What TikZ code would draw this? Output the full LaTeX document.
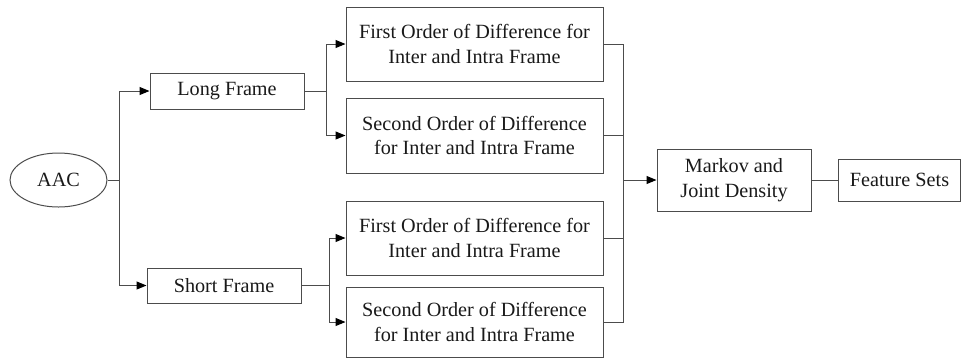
\documentclass[tikz,border=0pt]{standalone}
\usepackage{fontspec}
\setmainfont{Liberation Serif}
\usetikzlibrary{shapes.geometric,arrows.meta}
\begin{document}
\begin{tikzpicture}[x=1pt,y=-1pt,
  every node/.style={font=\fontsize{20.2}{24.5}\selectfont, text=black!90, inner sep=0pt},
  box/.style={draw=black!70, line width=1pt, rectangle, align=center},
  ln/.style={draw=black!70, line width=1pt},
  arr/.style={ln, -{Triangle[length=10pt,width=8pt,fill=black,color=black]}}]
\useasboundingbox (0,0) rectangle (961,360);
\node[draw=black!70, line width=1pt, ellipse, minimum width=97pt, minimum height=54pt] (aac) at (58.5,180) {AAC};
\node[box, minimum width=154pt, minimum height=36pt] (long) at (227,91) {Long Frame};
\node[box, minimum width=154pt, minimum height=35pt] (short) at (224,285.5) {Short Frame};
\node[box, minimum width=257pt, minimum height=74pt] (b1) at (474.5,44) {First Order of Difference for\\Inter and Intra Frame};
\node[box, minimum width=257pt, minimum height=75pt] (b2) at (474.5,135.5) {Second Order of Difference\\for Inter and Intra Frame};
\node[box, minimum width=257pt, minimum height=74pt] (b3) at (474.5,238) {First Order of Difference for\\Inter and Intra Frame};
\node[box, minimum width=257pt, minimum height=70pt] (b4) at (474.5,322) {Second Order of Difference\\for Inter and Intra Frame};
\node[box, minimum width=154pt, minimum height=62pt] (mk) at (734,180) {Markov and\\Joint Density};
\node[box, minimum width=122pt, minimum height=42pt] (fs) at (899.5,180) {Feature Sets};
\coordinate (j0) at (119,180);
\coordinate (j1) at (326,91);
\coordinate (j2) at (329,285.5);
\coordinate (j3) at (623,180);
\draw[ln] (aac.east) -- (j0);
\draw[arr] (j0) |- (long.west);
\draw[arr] (j0) |- (short.west);
\draw[ln] (long.east) -- (j1);
\draw[arr] (j1) |- (b1.west);
\draw[arr] (j1) |- (b2.west);
\draw[ln] (short.east) -- (j2);
\draw[arr] (j2) |- (b3.west);
\draw[arr] (j2) |- (b4.west);
\draw[ln] (b1.east) -| (j3);
\draw[ln] (b2.east) -| (j3);
\draw[ln] (b3.east) -| (j3);
\draw[ln] (b4.east) -| (j3);
\draw[arr] (j3) -- (mk.west);
\draw[ln] (mk.east) -- (fs.west);
\end{tikzpicture}
\end{document}
